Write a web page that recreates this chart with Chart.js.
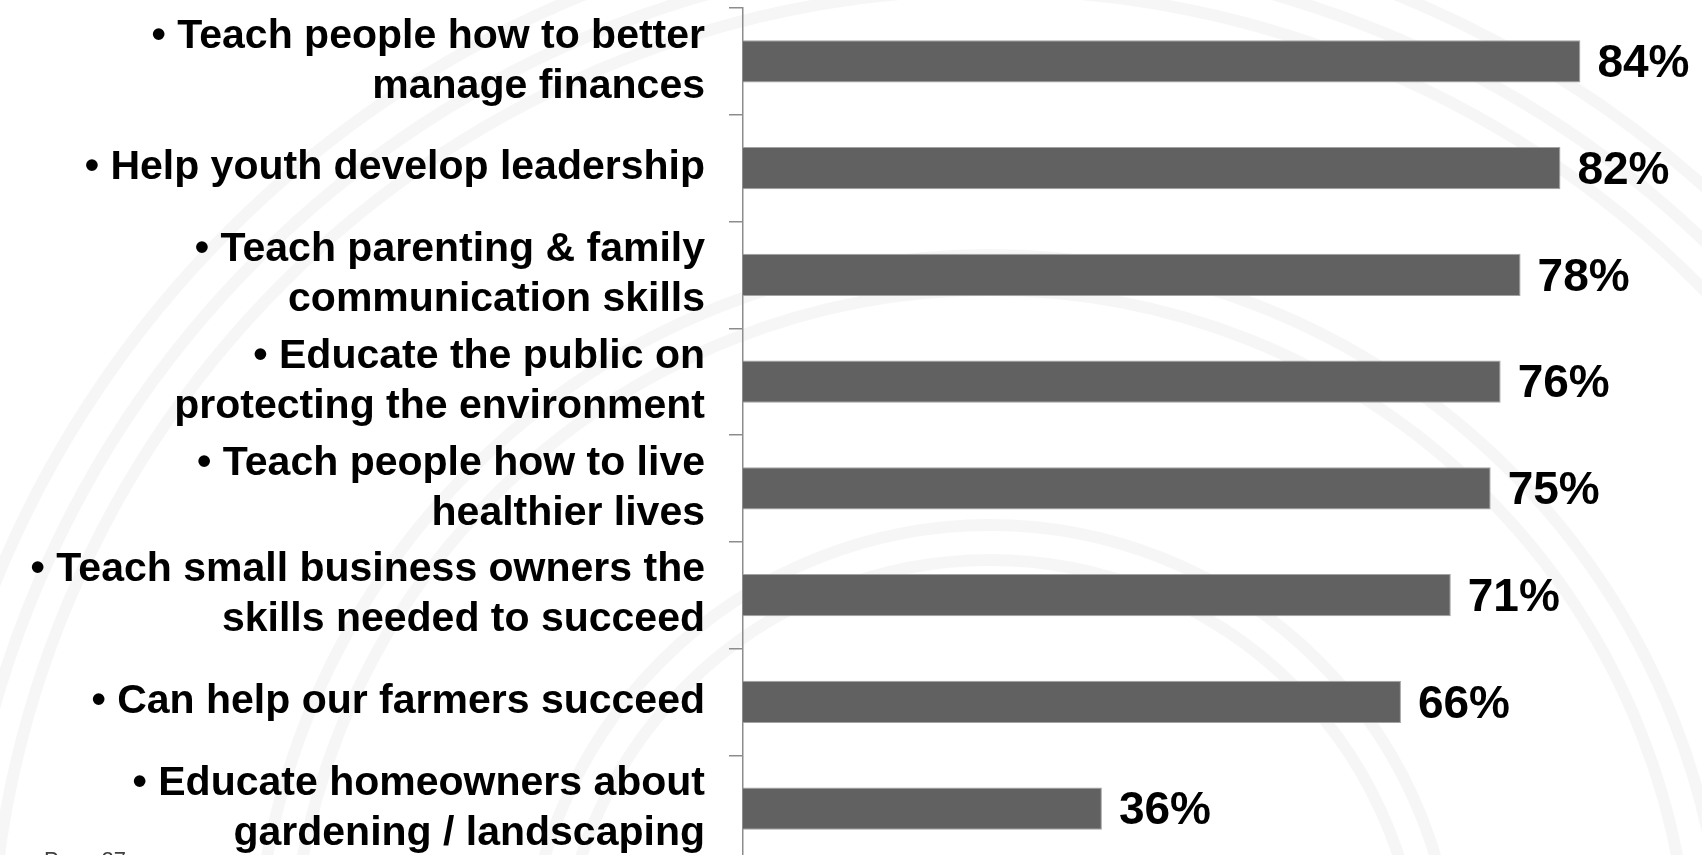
<!DOCTYPE html>
<html lang="en">
<head>
    <meta charset="UTF-8">
    <title>Extension priorities</title>
    <style>
        html, body {
            margin: 0;
            padding: 0;
            overflow: hidden;
            background: #ffffff;
        }
        canvas {
            display: block;
            -moz-user-select: none;
            -webkit-user-select: none;
            -ms-user-select: none;
            user-select: none;
        }
    </style>
</head>
<body>

<canvas id="canvas" width="1702" height="870"></canvas>

<script src="https://cdn.jsdelivr.net/npm/chart.js@4.4.1/dist/chart.umd.min.js"></script>
<script>
    const ctx = document.getElementById("canvas").getContext("2d");

    const CATEGORIES = [
        ["• Teach people how to better", "manage finances"],
        "• Help youth develop leadership",
        ["• Teach parenting & family", "communication skills"],
        ["• Educate the public on", "protecting the environment"],
        ["• Teach people how to live", "healthier lives"],
        ["• Teach small business owners the", "skills needed to succeed"],
        "• Can help our farmers succeed",
        ["• Educate homeowners about", "gardening / landscaping"]
    ];
    const VALUES = [84, 82, 78, 76, 75, 71, 66, 36];
    const PAGE_LABEL = "Page 27";

    const FONT = "'Liberation Sans', Arial, sans-serif";

    // faint concentric rings behind the slide + page number in the corner
    const slideBackground = {
        id: "slideBackground",
        beforeDraw(chart) {
            const c = chart.ctx;
            c.save();
            c.fillStyle = "#ffffff";
            c.fillRect(0, 0, chart.width, chart.height);
            c.strokeStyle = "rgba(0, 0, 0, 0.035)";
            c.lineWidth = 12;
            [430, 465, 700, 735, 1000, 1035, 1075].forEach(function (r) {
                c.beginPath();
                c.arc(990, 990, r, 0, Math.PI * 2);
                c.stroke();
            });
            c.fillStyle = "#404040";
            c.font = "22px " + FONT;
            c.textBaseline = "alphabetic";
            c.fillText(PAGE_LABEL, 44, 867);
            c.restore();
        }
    };

    // percentage label at the end of each bar
    const valueLabels = {
        id: "valueLabels",
        afterDatasetsDraw(chart) {
            const c = chart.ctx;
            const meta = chart.getDatasetMeta(0);
            c.save();
            c.fillStyle = "#000000";
            c.font = "bold 46px " + FONT;
            c.textAlign = "left";
            c.textBaseline = "middle";
            meta.data.forEach(function (bar, i) {
                c.fillText(VALUES[i] + "%", bar.x + 17, bar.y + 3);
            });
            c.restore();
        }
    };

    let config = {
        type: "bar",
        data: {
            labels: CATEGORIES,
            datasets: [
                {
                    data: VALUES,
                    backgroundColor: "#616161",
                    borderColor: "#a3a3a3",
                    borderWidth: 1,
                    borderSkipped: "start",
                    categoryPercentage: 1,
                    barPercentage: 0.394
                }
            ]
        },
        options: {
            indexAxis: "y",
            responsive: false,
            animation: false,
            layout: {
                padding: {top: 8, bottom: 8, left: 0, right: 2}
            },
            plugins: {
                legend: {display: false},
                title: {display: false},
                tooltip: {enabled: false}
            },
            scales: {
                x: {
                    display: false,
                    min: 0,
                    max: 96
                },
                y: {
                    grid: {
                        display: true,
                        drawOnChartArea: false,
                        drawTicks: true,
                        tickLength: 14,
                        color: "#8c8c8c",
                        lineWidth: 1.5
                    },
                    border: {
                        display: true,
                        color: "#8c8c8c",
                        width: 1.5
                    },
                    ticks: {
                        color: "#000000",
                        padding: 24,
                        autoSkip: false,
                        font: {family: FONT, size: 41, weight: "bold", lineHeight: 1.22}
                    },
                    afterFit(scale) {
                        scale.width = 743;
                        scale.paddingTop = 0;
                        scale.paddingBottom = 0;
                    }
                }
            }
        },
        plugins: [slideBackground, valueLabels]
    };

    const myBar = new Chart(ctx, config);
</script>
</body>
</html>
